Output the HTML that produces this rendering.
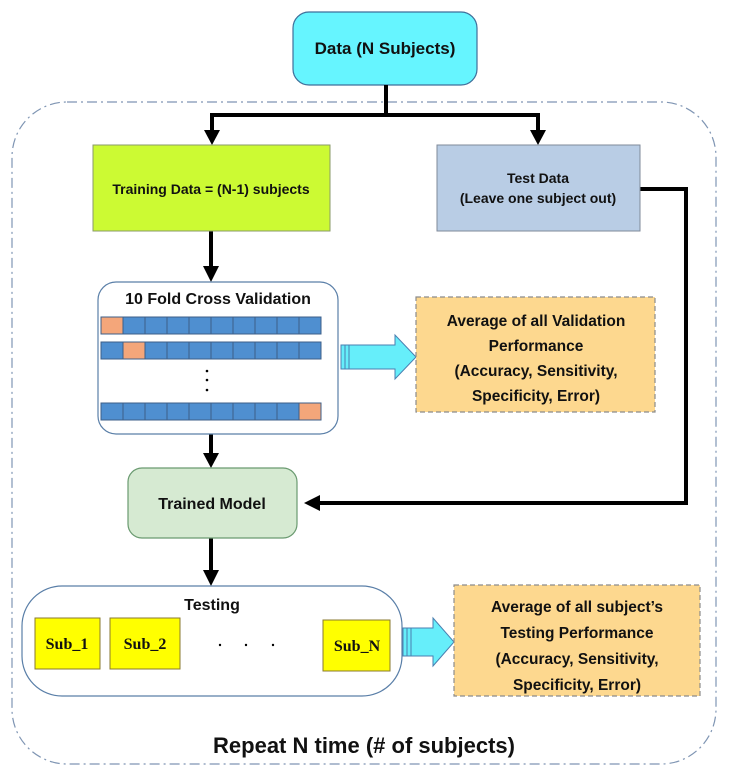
<!DOCTYPE html>
<html><head><meta charset="utf-8"><style>
html,body{margin:0;padding:0;background:#fff}
svg{display:block}
text{font-family:"Liberation Sans",sans-serif;font-weight:bold;fill:#111}
</style></head><body>
<svg width="729" height="780" viewBox="0 0 729 780" xmlns="http://www.w3.org/2000/svg">
<!-- outer dash-dot -->
<rect x="12" y="102" width="704" height="662" rx="55" fill="none" stroke="#7f95b3" stroke-width="1.2" stroke-dasharray="10,4,2,4"/>
<!-- Data -->
<rect x="293" y="12" width="184" height="73" rx="16" fill="#66f5ff" stroke="#3f6f9a" stroke-width="1.2"/>
<text x="385" y="54" font-size="17" text-anchor="middle">Data (N Subjects)</text>
<!-- connectors top -->
<g stroke="#000" stroke-width="4" fill="none">
<path d="M386 85 V115"/>
<path d="M210 115 H540"/>
<path d="M212 113 V132"/>
<path d="M538 113 V132"/>
<path d="M640 189 H686 V503 H318"/>
<path d="M211 231 V268"/>
<path d="M211 434 V455"/>
<path d="M211 538 V572"/>
</g>
<g fill="#000">
<polygon points="204,130 220,130 212,145"/>
<polygon points="530,130 546,130 538,145"/>
<polygon points="320,495 320,511 304,503"/>
<polygon points="203,266 219,266 211,282"/>
<polygon points="203,453 219,453 211,468"/>
<polygon points="203,570 219,570 211,586"/>
</g>
<!-- training -->
<rect x="93" y="145" width="237" height="86" fill="#ccfa33" stroke="#8a9a6a" stroke-width="1"/>
<text x="211" y="194" font-size="14" text-anchor="middle">Training Data = (N-1) subjects</text>
<!-- test -->
<rect x="437" y="145" width="203" height="86" fill="#b9cde5" stroke="#7f8a99" stroke-width="1"/>
<text x="538" y="183" font-size="14" text-anchor="middle" font-weight="normal">Test Data</text>
<text x="538" y="203" font-size="14" text-anchor="middle" font-weight="normal">(Leave one subject out)</text>
<!-- CV -->
<rect x="98" y="282" width="240" height="152" rx="18" fill="#fff" stroke="#5a7fa8" stroke-width="1.2"/>
<text x="218" y="304" font-size="16" text-anchor="middle">10 Fold Cross Validation</text>
<g stroke="#3d5f88" stroke-width="1">
<rect x="101" y="317" width="22" height="17" fill="#f4a67a"/>
<rect x="123" y="317" width="22" height="17" fill="#4f8fd0"/><rect x="145" y="317" width="22" height="17" fill="#4f8fd0"/><rect x="167" y="317" width="22" height="17" fill="#4f8fd0"/><rect x="189" y="317" width="22" height="17" fill="#4f8fd0"/><rect x="211" y="317" width="22" height="17" fill="#4f8fd0"/><rect x="233" y="317" width="22" height="17" fill="#4f8fd0"/><rect x="255" y="317" width="22" height="17" fill="#4f8fd0"/><rect x="277" y="317" width="22" height="17" fill="#4f8fd0"/><rect x="299" y="317" width="22" height="17" fill="#4f8fd0"/>
<rect x="101" y="342" width="22" height="17" fill="#4f8fd0"/>
<rect x="123" y="342" width="22" height="17" fill="#f4a67a"/><rect x="145" y="342" width="22" height="17" fill="#4f8fd0"/><rect x="167" y="342" width="22" height="17" fill="#4f8fd0"/><rect x="189" y="342" width="22" height="17" fill="#4f8fd0"/><rect x="211" y="342" width="22" height="17" fill="#4f8fd0"/><rect x="233" y="342" width="22" height="17" fill="#4f8fd0"/><rect x="255" y="342" width="22" height="17" fill="#4f8fd0"/><rect x="277" y="342" width="22" height="17" fill="#4f8fd0"/><rect x="299" y="342" width="22" height="17" fill="#4f8fd0"/>
<rect x="101" y="403" width="22" height="17" fill="#4f8fd0"/>
<rect x="123" y="403" width="22" height="17" fill="#4f8fd0"/><rect x="145" y="403" width="22" height="17" fill="#4f8fd0"/><rect x="167" y="403" width="22" height="17" fill="#4f8fd0"/><rect x="189" y="403" width="22" height="17" fill="#4f8fd0"/><rect x="211" y="403" width="22" height="17" fill="#4f8fd0"/><rect x="233" y="403" width="22" height="17" fill="#4f8fd0"/><rect x="255" y="403" width="22" height="17" fill="#4f8fd0"/><rect x="277" y="403" width="22" height="17" fill="#4f8fd0"/><rect x="299" y="403" width="22" height="17" fill="#f4a67a"/>
</g>
<circle cx="207" cy="371" r="1.3" fill="#000"/><circle cx="207" cy="380" r="1.3" fill="#000"/><circle cx="207" cy="390" r="1.3" fill="#000"/>
<!-- fat arrow 1 -->
<path d="M341 345 H395 V335 L416 357 L395 379 V369 H341 z" fill="#66eefa" stroke="#4a7fb0" stroke-width="1"/>
<path d="M345 345 V369 M349 345 V369" stroke="#4a7fb0" stroke-width="1"/>
<!-- avg1 -->
<rect x="416" y="297" width="239" height="115" fill="#fdd88f" stroke="#8c8c8c" stroke-width="1.2" stroke-dasharray="5,3"/>
<text x="536" y="326" font-size="15.5" text-anchor="middle">Average of all Validation</text>
<text x="536" y="351" font-size="15.5" text-anchor="middle">Performance</text>
<text x="536" y="376" font-size="15.5" text-anchor="middle">(Accuracy, Sensitivity,</text>
<text x="536" y="401" font-size="15.5" text-anchor="middle">Specificity, Error)</text>
<!-- trained -->
<rect x="128" y="468" width="169" height="70" rx="14" fill="#d6ead2" stroke="#6a9a70" stroke-width="1.2"/>
<text x="212" y="509" font-size="16" text-anchor="middle">Trained Model</text>
<!-- testing -->
<rect x="22" y="586" width="380" height="110" rx="40" fill="#fff" stroke="#5a7fa8" stroke-width="1.2"/>
<text x="212" y="610" font-size="16" text-anchor="middle" font-weight="normal">Testing</text>
<g stroke="#8a7a30" stroke-width="1" fill="#ffff00">
<rect x="35" y="618" width="65" height="51"/>
<rect x="110" y="618" width="70" height="51"/>
<rect x="323" y="620" width="67" height="51"/>
</g>
<text x="67" y="649" font-size="16" text-anchor="middle" style="font-family:'Liberation Serif',serif">Sub_1</text>
<text x="145" y="649" font-size="16" text-anchor="middle" style="font-family:'Liberation Serif',serif">Sub_2</text>
<text x="357" y="651" font-size="16" text-anchor="middle" style="font-family:'Liberation Serif',serif">Sub_N</text>
<circle cx="220" cy="645" r="1.2" fill="#000"/><circle cx="246" cy="645" r="1.2" fill="#000"/><circle cx="273" cy="645" r="1.2" fill="#000"/>
<!-- fat arrow 2 -->
<path d="M403 628 H433 V618 L454 642 L433 666 V656 H403 z" fill="#66eefa" stroke="#4a7fb0" stroke-width="1"/>
<path d="M407 628 V656 M411 628 V656" stroke="#4a7fb0" stroke-width="1"/>
<!-- avg2 -->
<rect x="454" y="585" width="246" height="111" fill="#fdd88f" stroke="#8c8c8c" stroke-width="1.2" stroke-dasharray="5,3"/>
<text x="577" y="612" font-size="15.5" text-anchor="middle">Average of all subject’s</text>
<text x="577" y="638" font-size="15.5" text-anchor="middle">Testing Performance</text>
<text x="577" y="664" font-size="15.5" text-anchor="middle">(Accuracy, Sensitivity,</text>
<text x="577" y="690" font-size="15.5" text-anchor="middle">Specificity, Error)</text>
<text x="364" y="753" font-size="22" text-anchor="middle" font-weight="normal">Repeat N time (# of subjects)</text>
</svg>
</body></html>
